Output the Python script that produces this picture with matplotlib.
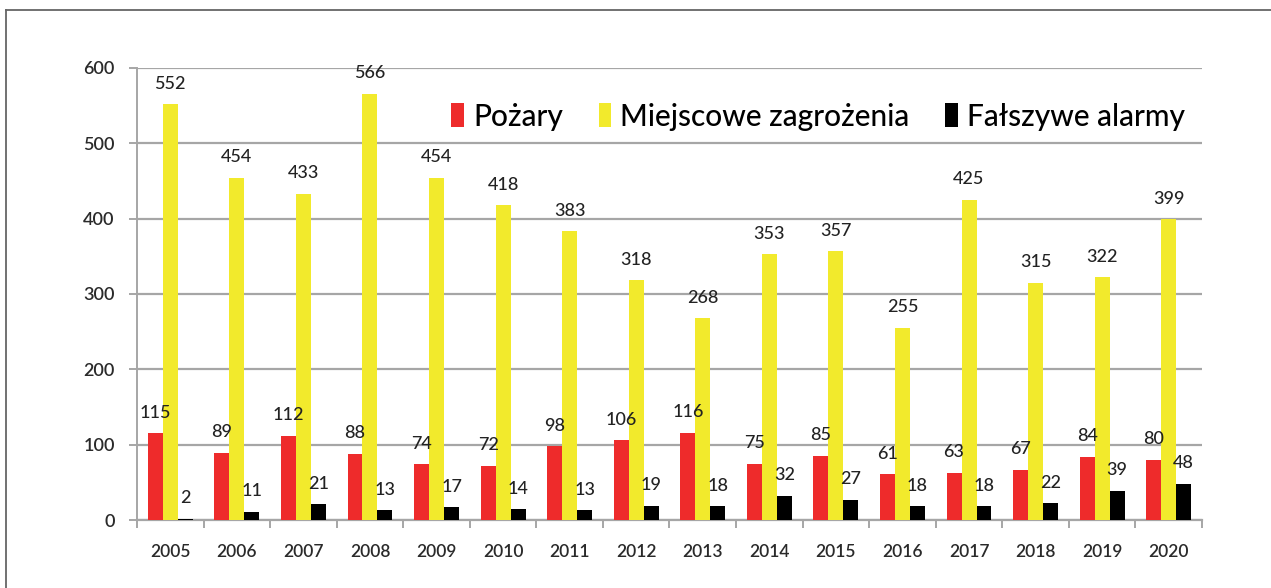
import matplotlib.pyplot as plt
import numpy as np
from matplotlib.lines import Line2D

# dane
lata = ["2005", "2006", "2007", "2008", "2009", "2010", "2011", "2012",
        "2013", "2014", "2015", "2016", "2017", "2018", "2019", "2020"]
pozary = [115, 89, 112, 88, 74, 72, 98, 106, 116, 75, 85, 61, 63, 67, 84, 80]
miejscowe = [552, 454, 433, 566, 454, 418, 383, 318, 268, 353, 357, 255, 425, 315, 322, 399]
falszywe = [2, 11, 21, 13, 17, 14, 13, 19, 18, 32, 27, 18, 18, 22, 39, 48]

plt.rcParams['font.family'] = ['Lato', 'DejaVu Sans']

fig = plt.figure(figsize=(12.71, 5.88), dpi=100)
ax = fig.add_axes([0.1078, 0.1156, 0.8379, 0.7688])

x = np.arange(len(lata))
w = 0.225
kolory = ["#EE2B2B", "#F2EA2C", "#000000"]
serie = [("Pożary", pozary), ("Miejscowe zagrożenia", miejscowe), ("Fałszywe alarmy", falszywe)]

for i, (nazwa, wart) in enumerate(serie):
    bary = ax.bar(x + (i - 1) * w, wart, w, color=kolory[i], label=nazwa, zorder=3)
    etykiety = ax.bar_label(bary, padding=9, fontsize=13, color="#222222", fontweight="medium")
    for t in etykiety:
        t.set_zorder(6)

ax.set_xlim(-0.5, len(lata) - 0.5)
ax.set_ylim(0, 600)
ax.set_yticks(range(0, 601, 100))
ax.yaxis.grid(True, color="#A6A6A6", linewidth=1.6, zorder=0)

ax.set_xticks(x)
ax.set_xticklabels(lata)
ax.set_xticks(np.arange(-0.5, len(lata)), minor=True)
ax.tick_params(axis='x', which='major', length=0, pad=17, labelsize=12.5, labelcolor="#2a2a2a")
ax.tick_params(axis='x', which='minor', length=6, width=1.4, color="#A6A6A6")
ax.tick_params(axis='y', length=6, width=1.4, color="#A6A6A6", pad=10, labelsize=13, labelcolor="#2a2a2a")
for lab in ax.get_xticklabels() + ax.get_yticklabels():
    lab.set_fontweight("semibold")

for s in ["top", "right"]:
    ax.spines[s].set_visible(False)
ax.spines["left"].set_color("#A6A6A6")
ax.spines["left"].set_linewidth(1.4)
ax.spines["bottom"].set_color("#A6A6A6")
ax.spines["bottom"].set_linewidth(1.6)

leg = ax.legend(loc="upper right", bbox_to_anchor=(0.995, 0.95), ncol=3, frameon=False,
                fontsize=21.5, handlelength=0.42, handleheight=0.85, handletextpad=0.3,
                columnspacing=1.2, borderaxespad=0,
                prop={"size": 21.5, "weight": "medium"})

# ramka wokół
fig.add_artist(Line2D([6 / 1271, 6 / 1271], [0, 1 - 10 / 588], color="#666666", linewidth=1.3))
fig.add_artist(Line2D([6 / 1271, 1], [1 - 10 / 588, 1 - 10 / 588], color="#666666", linewidth=1.3))

fig.savefig("out.png", dpi=100)
